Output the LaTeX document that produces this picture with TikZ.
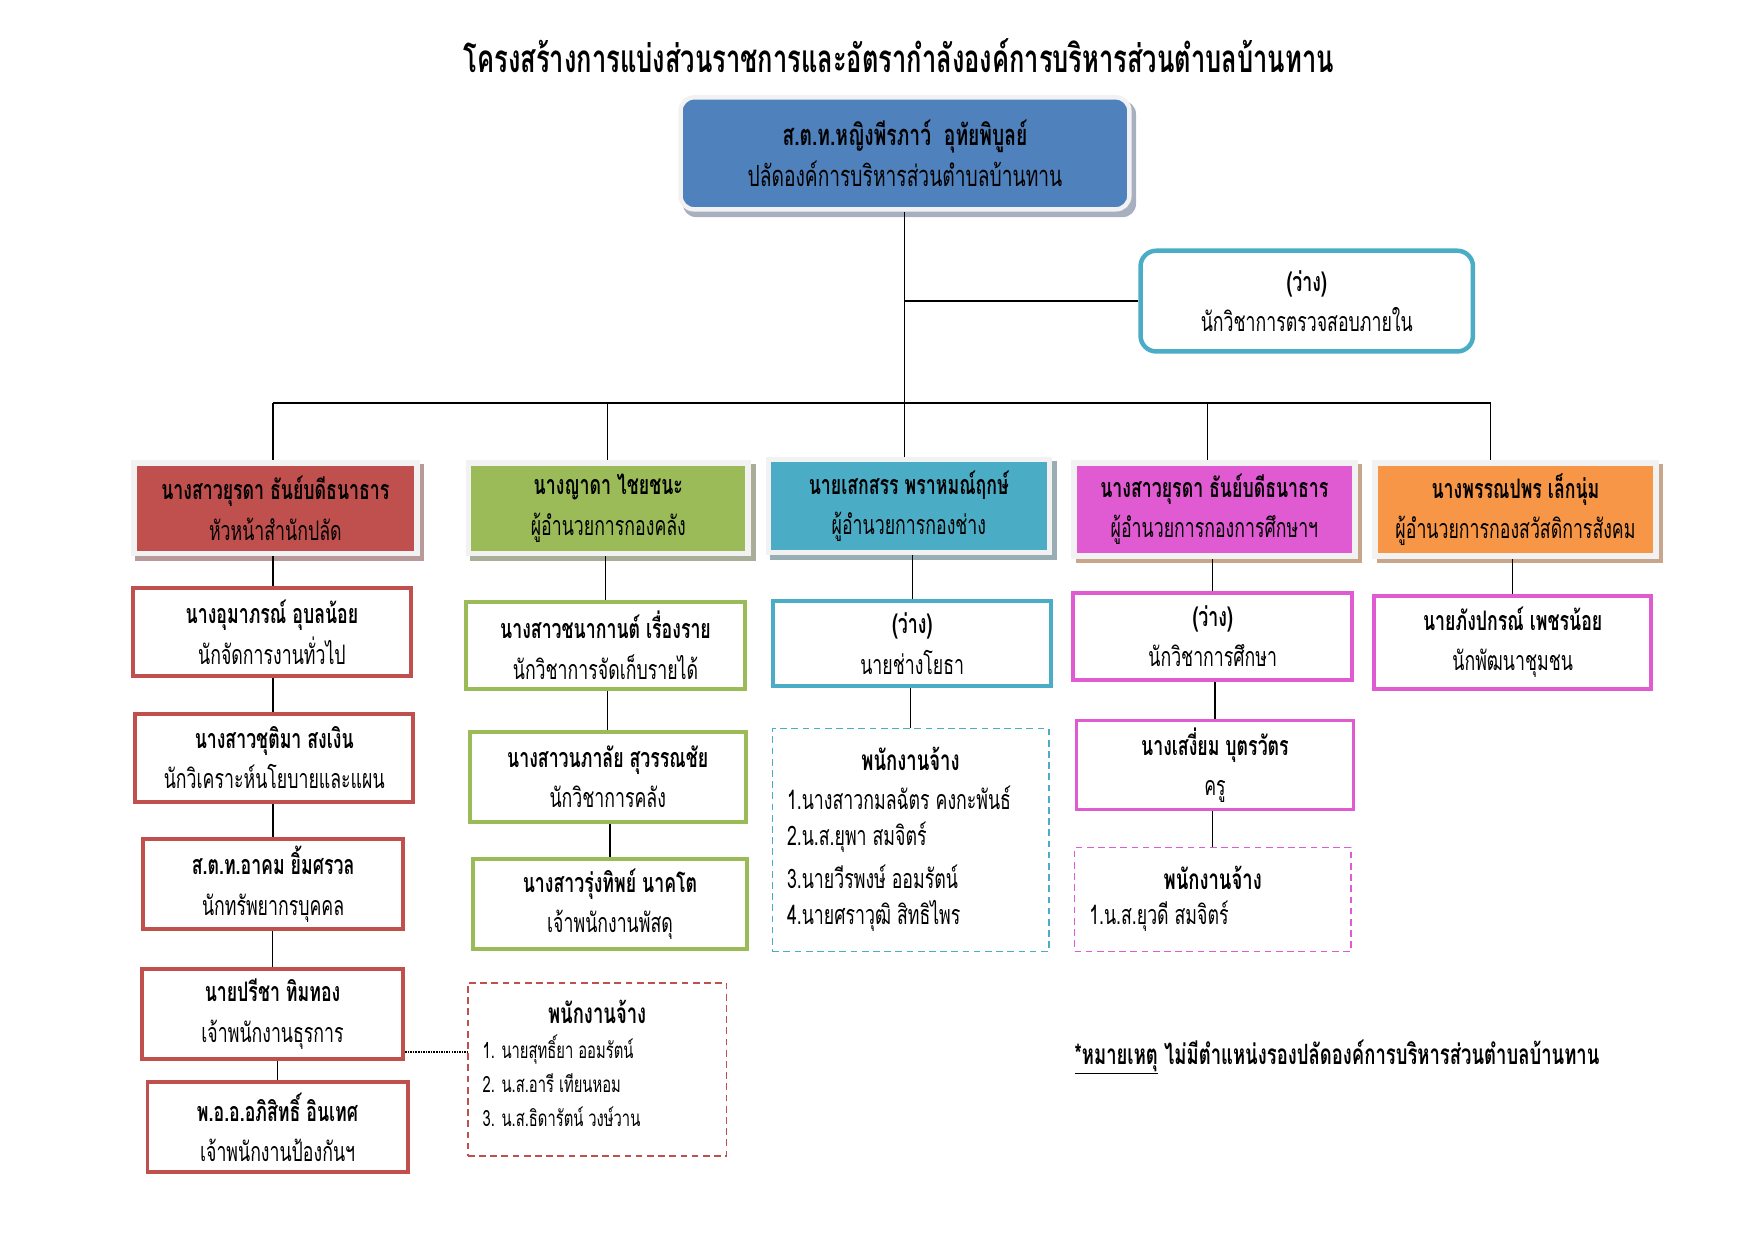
\documentclass[tikz,border=0pt]{standalone}
\usepackage{fontspec}
\newfontfamily\thai[Script=Thai,FakeStretch=0.66]{Loma}
\usetikzlibrary{backgrounds,calc}
\definecolor{cblue}{HTML}{4F81BD}
\definecolor{cred}{HTML}{C0504D}
\definecolor{cgreen}{HTML}{9BBB59}
\definecolor{cteal}{HTML}{4BACC6}
\definecolor{cmag}{HTML}{E05BD2}
\definecolor{corange}{HTML}{F79646}
\definecolor{cframe}{HTML}{F2F2F2}
\definecolor{shred}{HTML}{B89A9A}
\definecolor{shgreen}{HTML}{A8AE98}
\definecolor{shteal}{HTML}{98AEB4}
\definecolor{shtan}{HTML}{C8A68C}
\definecolor{shblue}{HTML}{A8B0C0}
\begin{document}
\begin{tikzpicture}[x={(1pt,0pt)},y={(0pt,-1pt)},
  every node/.style={inner sep=0pt, align=center, font=\thai\fontsize{24}{36}\selectfont},
  staffbox/.style={draw=#1, line width=3.5pt, fill=white},
  deptbox/.style={fill=#1, draw=cframe, line width=5pt},
  hiredbox/.style={draw=#1, line width=1.4pt, dash pattern=on 6pt off 4pt},
  hirehead/.style={font=\thai\bfseries\fontsize{25}{36}\selectfont},
  hireitem/.style={anchor=west, font=\thai\fontsize{24}{30}\selectfont},
  smallitem/.style={anchor=west, font=\thai\fontsize{20}{30}\selectfont},
  conn/.style={line width=1.1pt, draw=black}
]
\useasboundingbox (0,0) rectangle (1568,1108);

% title
\node[font=\thai\bfseries\fontsize{34.5}{36}\selectfont] (title) at (803,50)
  {โครงสร้างการแบ่งส่วนราชการและอัตรากำลังองค์การบริหารส่วนตำบลบ้านทาน};

% top box
\node[fill=cblue, draw=cframe, line width=4pt, rounded corners=12pt,
      minimum width=401pt, minimum height=100pt, font=\thai\fontsize{26}{37}\selectfont] (top) at (808.5,137)
  {\textbf{ส.ต.ท.หญิงพีรภาว์\ \ อุทัยพิบูลย์}\\ปลัดองค์การบริหารส่วนตำบลบ้านทาน};

% internal audit box
\node[draw=cteal, line width=4pt, rounded corners=14pt, fill=white,
      minimum width=297pt, minimum height=90pt] (audit) at (1167.5,269)
  {\textbf{(ว่าง)}\\นักวิชาการตรวจสอบภายใน};

% department boxes
\node[deptbox=cred, minimum width=253pt, minimum height=81pt] (d1) at (246,454)
  {\textbf{นางสาวยุรดา ธันย์บดีธนาธาร}\\หัวหน้าสำนักปลัด};
\node[deptbox=cgreen, minimum width=250pt, minimum height=81pt] (d2) at (543.5,454)
  {\textbf{นางญาดา ไชยชนะ}\\ผู้อำนวยการกองคลัง};
\node[deptbox=cteal, minimum width=251pt, minimum height=83pt] (d3) at (812,452)
  {\textbf{นายเสกสรร พราหมณ์ฤกษ์}\\ผู้อำนวยการกองช่าง};
\node[deptbox=cmag, minimum width=251pt, minimum height=83pt] (d4) at (1085,455)
  {\textbf{นางสาวยุรดา ธันย์บดีธนาธาร}\\ผู้อำนวยการกองการศึกษาฯ};
\node[deptbox=corange, minimum width=251pt, minimum height=83pt] (d5) at (1354,455)
  {\textbf{นางพรรณปพร เล็กนุ่ม}\\ผู้อำนวยการกองสวัสดิการสังคม};

% column 1 (red)
\node[staffbox=cred, minimum width=248.5pt, minimum height=78.5pt] (b1) at (243,565)
  {\textbf{นางอุมาภรณ์ อุบลน้อย}\\นักจัดการงานทั่วไป};
\node[staffbox=cred, minimum width=248.5pt, minimum height=78.5pt] (b2) at (245,677)
  {\textbf{นางสาวชุติมา สงเงิน}\\นักวิเคราะห์นโยบายและแผน};
\node[staffbox=cred, minimum width=232.5pt, minimum height=80.5pt] (b3) at (244,790)
  {\textbf{ส.ต.ท.อาคม ยิ้มศรวล}\\นักทรัพยากรบุคคล};
\node[staffbox=cred, minimum width=233.5pt, minimum height=80.5pt] (b4) at (243.5,906)
  {\textbf{นายปรีชา ทิมทอง}\\เจ้าพนักงานธุรการ};
\node[staffbox=cred, minimum width=232.5pt, minimum height=80.5pt] (b5) at (248,1007)
  {\textbf{พ.อ.อ.อภิสิทธิ์ อินเทศ}\\เจ้าพนักงานป้องกันฯ};

% column 2 (green)
\node[staffbox=cgreen, minimum width=248.5pt, minimum height=77.5pt] (g1) at (541,576.5)
  {\textbf{นางสาวชนากานต์ เรื่องราย}\\นักวิชาการจัดเก็บรายได้};
\node[staffbox=cgreen, minimum width=246.5pt, minimum height=80.5pt] (g2) at (543,694)
  {\textbf{นางสาวนภาลัย สุวรรณชัย}\\นักวิชาการคลัง};
\node[staffbox=cgreen, minimum width=244.5pt, minimum height=80.5pt] (g3) at (545,808)
  {\textbf{นางสาวรุ่งทิพย์ นาคโต}\\เจ้าพนักงานพัสดุ};

% column 3 (teal)
\node[staffbox=cteal, minimum width=248.5pt, minimum height=76.5pt] (t1) at (815,575)
  {\textbf{(ว่าง)}\\นายช่างโยธา};

% column 4 (magenta)
\node[staffbox=cmag, minimum width=249.5pt, minimum height=77.5pt] (m1) at (1083.5,568.5)
  {\textbf{(ว่าง)}\\นักวิชาการศึกษา};
\node[staffbox=cmag, minimum width=247.5pt, minimum height=79.5pt] (m2) at (1085.5,683.5)
  {\textbf{นางเสงี่ยม บุตรวัตร}\\ครู};

% column 5
\node[staffbox=cmag, minimum width=247.5pt, minimum height=82.5pt] (o1) at (1351.5,574)
  {\textbf{นายภังปกรณ์ เพชรน้อย}\\นักพัฒนาชุมชน};

% hired staff boxes
\node[hiredbox=cred, minimum width=231pt, minimum height=155pt] (hr) at (533.5,955.5) {};
\node[hirehead] (hrh) at (533.5,904) {พนักงานจ้าง};
\node[smallitem] (hr1) at (431,938) {1. นายสุทธิ์ยา ออมรัตน์};
\node[smallitem] (hr2) at (431,968) {2. น.ส.อารี เทียนหอม};
\node[smallitem] (hr3) at (431,998) {3. น.ส.ธิดารัตน์ วงษ์วาน};

\node[hiredbox=cteal, minimum width=247pt, minimum height=199pt] (ht) at (813.5,750.5) {};
\node[hirehead] (hth) at (813.5,678) {พนักงานจ้าง};
\node[hireitem] (ht1) at (703,713) {1.นางสาวกมลฉัตร คงกะพันธ์};
\node[hireitem] (ht2) at (703,748) {2.น.ส.ยุพา สมจิตร์};
\node[hireitem] (ht3) at (703,783) {3.นายวีรพงษ์ ออมรัตน์};
\node[hireitem] (ht4) at (703,818) {4.นายศราวุฒิ สิทธิไพร};

\node[hiredbox=cmag, minimum width=247pt, minimum height=93pt] (hm) at (1083.5,803.5) {};
\node[hirehead] (hmh) at (1083.5,784) {พนักงานจ้าง};
\node[hireitem] (hm1) at (973,819) {1.น.ส.ยุวดี สมจิตร์};

% footnote
\node[anchor=west, font=\thai\bfseries\fontsize{25}{30}\selectfont] (note) at (960,944)
  {\underline{*หมายเหตุ} ไม่มีตำแหน่งรองปลัดองค์การบริหารส่วนตำบลบ้านทาน};

% shadows
\begin{scope}[on background layer]
  \fill[shblue, rounded corners=12pt] ([shift={(4,5)}]top.south west) rectangle ([shift={(4,5)}]top.north east);
  \fill[shred] ([shift={(4,4)}]d1.south west) rectangle ([shift={(4,4)}]d1.north east);
  \fill[shgreen] ([shift={(4,4)}]d2.south west) rectangle ([shift={(4,4)}]d2.north east);
  \fill[shteal] ([shift={(4,4)}]d3.south west) rectangle ([shift={(4,4)}]d3.north east);
  \fill[shtan] ([shift={(4,4)}]d4.south west) rectangle ([shift={(4,4)}]d4.north east);
  \fill[shtan] ([shift={(4,4)}]d5.south west) rectangle ([shift={(4,4)}]d5.north east);
\end{scope}

% connectors
\coordinate (j) at (808,360);
\coordinate (busL) at (244,360);
\coordinate (busR) at (1332,360);
\coordinate (dr2) at (543,360);
\coordinate (dr4) at (1079,360);
\begin{scope}[on background layer]
\draw[conn] (top.south -| j) -- (j);
\draw[conn] (audit.west) -- (audit.west -| j);
\draw[conn] (busL) -- (busR);
\draw[conn] (busL) -- (busL |- d1.north);
\draw[conn] (dr2) -- (dr2 |- d2.north);
\draw[conn] (j) -- (j |- d3.north);
\draw[conn] (dr4) -- (dr4 |- d4.north);
\draw[conn] (busR) -- (busR |- d5.north);

\draw[conn] (b1.north -| busL) -- (d1.south -| busL);
\draw[conn] (b2.north -| busL) -- (b1.south -| busL);
\draw[conn] (b3.north) -- (b3.north |- b2.south);
\draw[conn] (b4.north) -- (b4.north |- b3.south);
\draw[conn] (b5.north) -- (b5.north |- b4.south);

\draw[conn] (g1.north) -- (g1.north |- d2.south);
\draw[conn] (g2.north) -- (g2.north |- g1.south);
\draw[conn] (g3.north) -- (g3.north |- g2.south);

\draw[conn] (t1.north) -- (t1.north |- d3.south);
\draw[conn] (ht.north) -- (ht.north |- t1.south);

\draw[conn] (m1.north) -- (m1.north |- d4.south);
\draw[conn] (m2.north) -- (m2.north |- m1.south);
\draw[conn] (hm.north) -- (hm.north |- m2.south);

\draw[conn] (o1.north) -- (o1.north |- d5.south);
\end{scope}
\draw[line width=1.3pt, densely dotted] ([yshift=-34pt]b4.east) -- ([yshift=-34pt]b4.east -| hr.west);
\end{tikzpicture}
\end{document}
